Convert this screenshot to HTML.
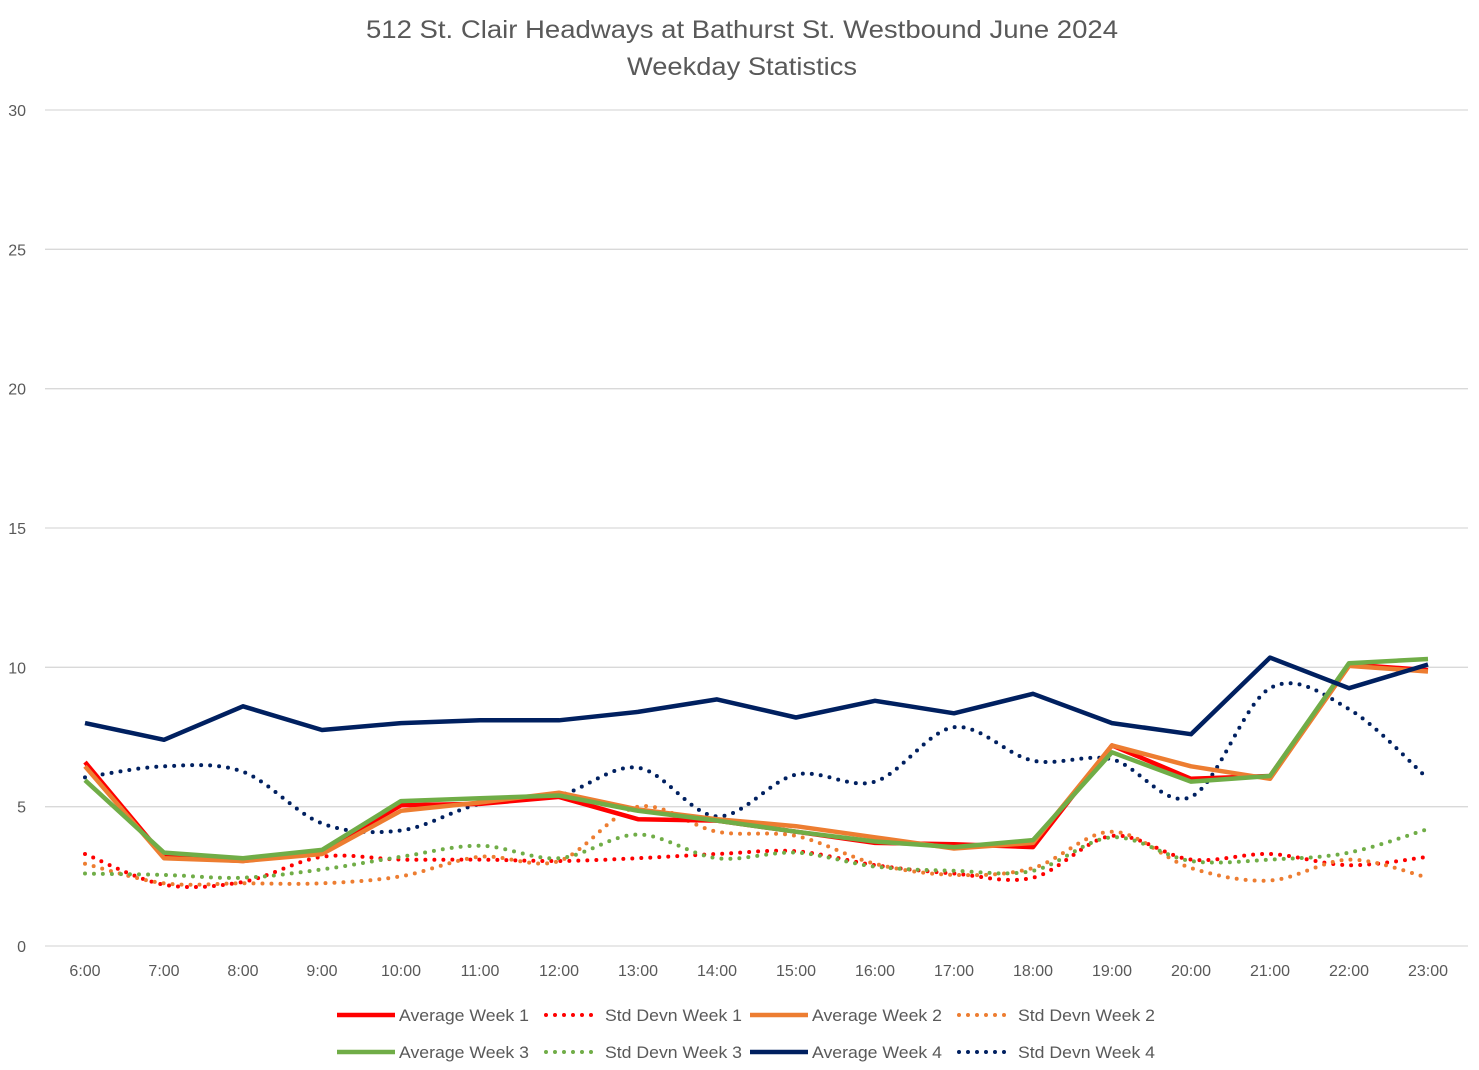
<!DOCTYPE html>
<html><head><meta charset="utf-8"><style>
body{margin:0;background:#fff;}
svg{display:block;font-family:"Liberation Sans",sans-serif;}
</style></head><body>
<svg id="chart" width="1479" height="1070" xmlns="http://www.w3.org/2000/svg">
<rect width="1479" height="1070" fill="#fff"/>
<text x="742" y="38" text-anchor="middle" font-size="25" fill="#595959" textLength="752" lengthAdjust="spacingAndGlyphs">512 St. Clair Headways at Bathurst St. Westbound June 2024</text>
<text x="742" y="75" text-anchor="middle" font-size="25" fill="#595959" textLength="230" lengthAdjust="spacingAndGlyphs">Weekday Statistics</text>
<g id="grid"></g><g id="series"></g><g id="legend"></g>
</svg>
<script>
const categories=["6:00","7:00","8:00","9:00","10:00","11:00","12:00","13:00","14:00","15:00","16:00","17:00","18:00","19:00","20:00","21:00","22:00","23:00"];
const yTicks=[0,5,10,15,20,25,30];
const avgW1=[6.6,3.2,3.05,3.4,5.05,5.1,5.35,4.55,4.5,4.1,3.7,3.65,3.55,7.2,6.0,6.1,10.1,9.9];
const stdW1=[3.3,2.2,2.3,3.2,3.1,3.1,3.05,3.15,3.3,3.4,2.9,2.6,2.45,3.95,3.1,3.3,2.9,3.2];
const avgW2=[6.45,3.15,3.05,3.3,4.85,5.15,5.5,4.9,4.55,4.3,3.9,3.5,3.7,7.2,6.45,6.0,10.05,9.85];
const stdW2=[2.95,2.25,2.25,2.25,2.5,3.2,3.05,5.0,4.1,3.95,2.95,2.55,2.8,4.1,2.8,2.35,3.1,2.45];
const avgW3=[5.95,3.35,3.15,3.45,5.2,5.3,5.4,4.85,4.5,4.1,3.75,3.55,3.8,6.95,5.9,6.1,10.15,10.3];
const stdW3=[2.6,2.55,2.45,2.75,3.2,3.6,3.15,4.0,3.15,3.35,2.85,2.7,2.7,3.9,3.05,3.1,3.35,4.2];
const avgW4=[8.0,7.4,8.6,7.75,8.0,8.1,8.1,8.4,8.85,8.2,8.8,8.35,9.05,8.0,7.6,10.35,9.25,10.1];
const stdW4=[6.05,6.45,6.25,4.4,4.15,5.1,5.4,6.4,4.65,6.15,5.9,7.85,6.65,6.7,5.35,9.25,8.5,6.0];

const NS="http://www.w3.org/2000/svg";
const x=i=>85+i*(1428-85)/(categories.length-1);
const y=v=>946-v*(946-110)/30;
function mk(tag,attrs,parent){const e=document.createElementNS(NS,tag);for(const k in attrs)e.setAttribute(k,attrs[k]);parent.appendChild(e);return e;}
const grid=document.getElementById('grid');
yTicks.forEach(t=>{
  const l=mk('line',{x1:45,x2:1468,y1:y(t),y2:y(t),stroke:'#d9d9d9','stroke-width':1.3},grid);
  
  
  const tx=mk('text',{x:26,y:y(t)+6,'text-anchor':'end','font-size':16,fill:'#595959'},grid);
  tx.textContent=t;
  
  
});
categories.forEach((c,i)=>{
  const tx=mk('text',{x:x(i),y:976,'text-anchor':'middle','font-size':16,fill:'#595959'},grid);
  tx.textContent=c;
  
  
});
function straight(d){return d.map((v,i)=>(i?'L':'M')+x(i).toFixed(1)+' '+y(v).toFixed(1)).join(' ');}
function smooth(d){
  const p=d.map((v,i)=>[x(i),y(v)]);let s='M'+p[0][0]+' '+p[0][1];
  for(let i=0;i<p.length-1;i++){const p0=p[i-1]||p[i],p1=p[i],p2=p[i+1],p3=p[i+2]||p2;
    const c1=[p1[0]+(p2[0]-p0[0])/6,p1[1]+(p2[1]-p0[1])/6],c2=[p2[0]-(p3[0]-p1[0])/6,p2[1]-(p3[1]-p1[1])/6];
    s+=` C${c1[0].toFixed(1)} ${c1[1].toFixed(1)} ${c2[0].toFixed(1)} ${c2[1].toFixed(1)} ${p2[0].toFixed(1)} ${p2[1].toFixed(1)}`;}
  return s;}
const series=[
 {n:'Std Devn Week 1',d:stdW1,c:'#ff0000',dot:true,id:'std-week-1'},
 {n:'Std Devn Week 2',d:stdW2,c:'#ed7d31',dot:true,id:'std-week-2'},
 {n:'Std Devn Week 3',d:stdW3,c:'#70ad47',dot:true,id:'std-week-3'},
 {n:'Std Devn Week 4',d:stdW4,c:'#002060',dot:true,id:'std-week-4'},
 {n:'Average Week 1',d:avgW1,c:'#ff0000',dot:false,id:'avg-week-1'},
 {n:'Average Week 2',d:avgW2,c:'#ed7d31',dot:false,id:'avg-week-2'},
 {n:'Average Week 3',d:avgW3,c:'#70ad47',dot:false,id:'avg-week-3'},
 {n:'Average Week 4',d:avgW4,c:'#002060',dot:false,id:'avg-week-4'}];
const sg=document.getElementById('series');
series.forEach(s=>{
  const a={d:s.dot?smooth(s.d):straight(s.d),fill:'none',stroke:s.c,'stroke-linejoin':'round'};
  if(s.dot){a['stroke-width']=4;a['stroke-linecap']='round';a['stroke-dasharray']='0 9';}
  else{a['stroke-width']=4.5;}
  const p=mk('path',a,sg);
  
  
});
const legendOrder=[
 ['Average Week 1','#ff0000',false],['Std Devn Week 1','#ff0000',true],['Average Week 2','#ed7d31',false],['Std Devn Week 2','#ed7d31',true],
 ['Average Week 3','#70ad47',false],['Std Devn Week 3','#70ad47',true],['Average Week 4','#002060',false],['Std Devn Week 4','#002060',true]];
const lx=[335,541,748,954],ly=[1015,1052];
const lg=document.getElementById('legend');
legendOrder.forEach((e,i)=>{
  const gx=lx[i%4],gy=ly[Math.floor(i/4)];
  const g=mk('g',{},lg);
  
  
  const la={x1:gx+2,x2:gx+60,y1:gy,y2:gy,stroke:e[1]};
  if(e[2]){la['stroke-width']=4;la['stroke-linecap']='round';la['stroke-dasharray']='0 9';la.x1=gx+5;la.x2=gx+51;}else{la['stroke-width']=4.5;}
  mk('line',la,g);
  const t=mk('text',{x:gx+64,y:gy+6,'font-size':17,fill:'#595959',textLength:e[2]?137:130,lengthAdjust:'spacingAndGlyphs'},g);
  t.textContent=e[0];
});
</script>
</body></html>
